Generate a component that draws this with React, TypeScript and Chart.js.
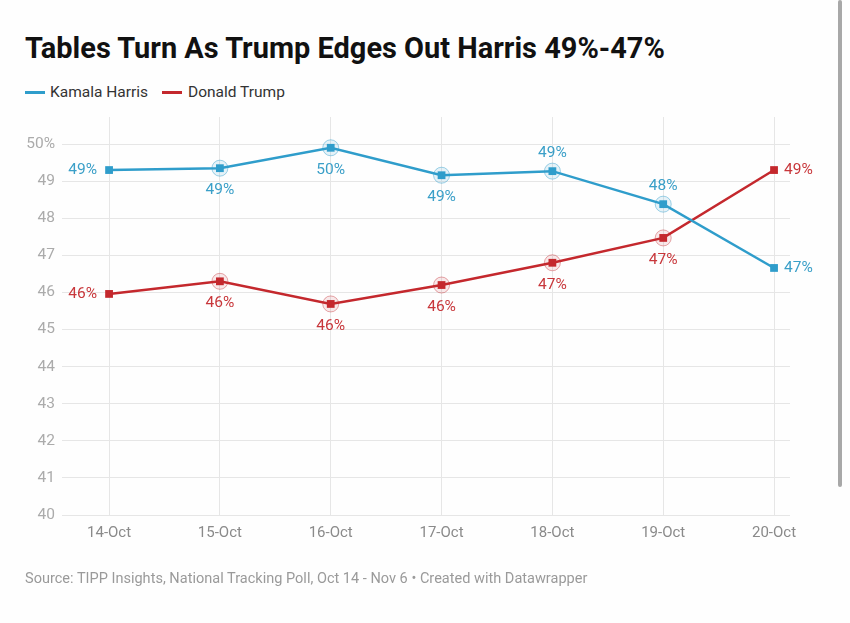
import React, { useEffect, useRef } from "react";
import { Chart, registerables } from "chart.js";

Chart.register(...registerables);

const categories = ["14-Oct", "15-Oct", "16-Oct", "17-Oct", "18-Oct", "19-Oct", "20-Oct"];
const harris = [49.3, 49.35, 49.9, 49.16, 49.27, 48.38, 46.66];
const trump = [45.96, 46.3, 45.69, 46.2, 46.8, 47.47, 49.3];
const harrisLabelPos = ["left", "below", "below", "below", "above", "above", "right"];
const trumpLabelPos = ["left", "below", "below", "below", "below", "below", "right"];
const haloIndices = [1, 2, 3, 4, 5];
const yTicks = [40, 41, 42, 43, 44, 45, 46, 47, 48, 49, 50];

const BLUE = "#2f9dcb";
const RED = "#c4282d";
const BLUE_LABEL = "#3a9fc8";
const RED_LABEL = "#c8373b";
const FONT = "Roboto, 'Noto Sans', sans-serif";

const overlayPlugin = {
  id: "overlay",
  beforeDatasetsDraw(chart: any) {
    const ctx = chart.ctx;
    chart.data.datasets.forEach((ds: any, di: number) => {
      const meta = chart.getDatasetMeta(di);
      haloIndices.forEach((i) => {
        const pt = meta.data[i];
        if (!pt) return;
        ctx.save();
        ctx.beginPath();
        ctx.arc(pt.x, pt.y, 8, 0, Math.PI * 2);
        ctx.fillStyle = ds.haloFill;
        ctx.fill();
        ctx.lineWidth = 1;
        ctx.strokeStyle = ds.haloStroke;
        ctx.stroke();
        ctx.restore();
      });
    });
  },
  afterDatasetsDraw(chart: any) {
    const ctx = chart.ctx;
    chart.data.datasets.forEach((ds: any, di: number) => {
      const meta = chart.getDatasetMeta(di);
      meta.data.forEach((pt: any, i: number) => {
        const v = ds.data[i].y;
        const text = Math.round(v) + "%";
        const pos = ds.labelPos[i];
        ctx.save();
        ctx.font = `400 15.5px ${FONT}`;
        ctx.fillStyle = ds.labelColor;
        ctx.textBaseline = "middle";
        let x = pt.x;
        let y = pt.y;
        if (pos === "left") {
          ctx.textAlign = "right";
          x -= 12;
        } else if (pos === "right") {
          ctx.textAlign = "left";
          x += 10;
        } else if (pos === "below") {
          ctx.textAlign = "center";
          y += 22;
        } else {
          ctx.textAlign = "center";
          y -= 18;
        }
        ctx.fillText(text, x, y);
        ctx.restore();
      });
    });
  },
};

export default function App() {
  const canvasRef = useRef<HTMLCanvasElement | null>(null);
  const titleRef = useRef<HTMLDivElement | null>(null);
  const sourceRef = useRef<HTMLDivElement | null>(null);

  useEffect(() => {
    const fit = (el: HTMLDivElement | null, target: number) => {
      if (!el) return;
      const w = el.scrollWidth;
      if (w > 0) el.style.transform = `scaleX(${target / w})`;
    };
    fit(titleRef.current, 640);
    fit(sourceRef.current, 562);
    const canvas = canvasRef.current;
    if (!canvas) return;
    const chart = new Chart(canvas, {
      type: "line",
      data: {
        datasets: [
          {
            label: "Kamala Harris",
            data: categories.map((_, i) => ({ x: i, y: harris[i] })),
            borderColor: BLUE,
            backgroundColor: BLUE,
            borderWidth: 2.5,
            pointStyle: "rect",
            pointRadius: 5.5,
            pointBorderWidth: 0,
            pointBackgroundColor: BLUE,
            tension: 0,
            clip: false,
            labelPos: harrisLabelPos,
            labelColor: BLUE_LABEL,
            haloFill: "rgba(47,157,203,0.12)",
            haloStroke: "rgba(47,157,203,0.45)",
          } as any,
          {
            label: "Donald Trump",
            data: categories.map((_, i) => ({ x: i, y: trump[i] })),
            borderColor: RED,
            backgroundColor: RED,
            borderWidth: 2.5,
            pointStyle: "rect",
            pointRadius: 5.5,
            pointBorderWidth: 0,
            pointBackgroundColor: RED,
            tension: 0,
            clip: false,
            labelPos: trumpLabelPos,
            labelColor: RED_LABEL,
            haloFill: "rgba(196,40,45,0.10)",
            haloStroke: "rgba(196,40,45,0.40)",
          } as any,
        ],
      },
      options: {
        animation: false,
        responsive: false,
        maintainAspectRatio: false,
        layout: { padding: { top: 117, right: 60, left: 0, bottom: 0 } },
        plugins: {
          legend: { display: false },
          tooltip: { enabled: false },
        },
        scales: {
          x: {
            type: "linear",
            min: -0.4247,
            max: 6.144,
            afterBuildTicks: (scale: any) => {
              scale.ticks = categories.map((_, i) => ({ value: i }));
            },
            afterFit: (scale: any) => {
              scale.height = 108;
            },
            ticks: {
              callback: (v: any) => categories[v] ?? "",
              color: "#8a8a8a",
              font: { family: FONT, size: 15 },
              padding: 9,
              maxRotation: 0,
              autoSkip: false,
            },
            grid: { color: "#e6e6e6", drawTicks: false, lineWidth: 1 },
            border: { display: false },
          },
          y: {
            type: "linear",
            min: 40,
            max: 50.73,
            afterBuildTicks: (scale: any) => {
              scale.ticks = yTicks.map((v) => ({ value: v }));
            },
            afterFit: (scale: any) => {
              scale.width = 62;
            },
            ticks: {
              callback: (v: any) => (v === 50 ? "50%" : String(v)),
              color: "#ababab",
              font: { family: FONT, size: 15.5 },
              padding: 7,
            },
            grid: { color: "#e6e6e6", drawTicks: false, lineWidth: 1 },
            border: { display: false },
          },
        },
      },
      plugins: [overlayPlugin],
    });
    return () => chart.destroy();
  }, []);

  return (
    <div
      style={{
        position: "fixed",
        left: 0,
        top: 0,
        width: 850,
        height: 623,
        background: "#fefefe",
        overflow: "hidden",
        fontFamily: FONT,
      }}
    >
      <div
        ref={titleRef}
        style={{
          position: "absolute",
          left: 25,
          top: 31,
          fontSize: 30,
          fontWeight: 700,
          color: "#111",
          whiteSpace: "nowrap",
          transformOrigin: "left center",
          lineHeight: "34px",
        }}
      >
        Tables Turn As Trump Edges Out Harris 49%-47%
      </div>
      <div
        style={{
          position: "absolute",
          left: 25,
          top: 82,
          height: 20,
          display: "flex",
          alignItems: "center",
          fontSize: 15.5,
          color: "#333",
          whiteSpace: "nowrap",
        }}
      >
        <span style={{ display: "inline-block", width: 20, height: 3, background: BLUE, marginRight: 5 }} />
        <span style={{ marginRight: 14 }}>Kamala Harris</span>
        <span style={{ display: "inline-block", width: 20, height: 3, background: RED, marginRight: 6 }} />
        <span>Donald Trump</span>
      </div>
      <canvas
        ref={canvasRef}
        width={850}
        height={623}
        style={{ position: "absolute", left: 0, top: 0, width: 850, height: 623 }}
      />
      <div
        ref={sourceRef}
        style={{
          position: "absolute",
          left: 25,
          top: 568,
          fontSize: 15,
          color: "#9a9a9a",
          whiteSpace: "nowrap",
          lineHeight: "20px",
          transformOrigin: "left center",
        }}
      >
        Source: TIPP Insights, National Tracking Poll, Oct 14 - Nov 6 • Created with Datawrapper
      </div>
      <div
        style={{
          position: "absolute",
          left: 838,
          top: 0,
          width: 4,
          height: 487,
          background: "#a8a8a8",
          borderRadius: 2,
        }}
      />
    </div>
  );
}
